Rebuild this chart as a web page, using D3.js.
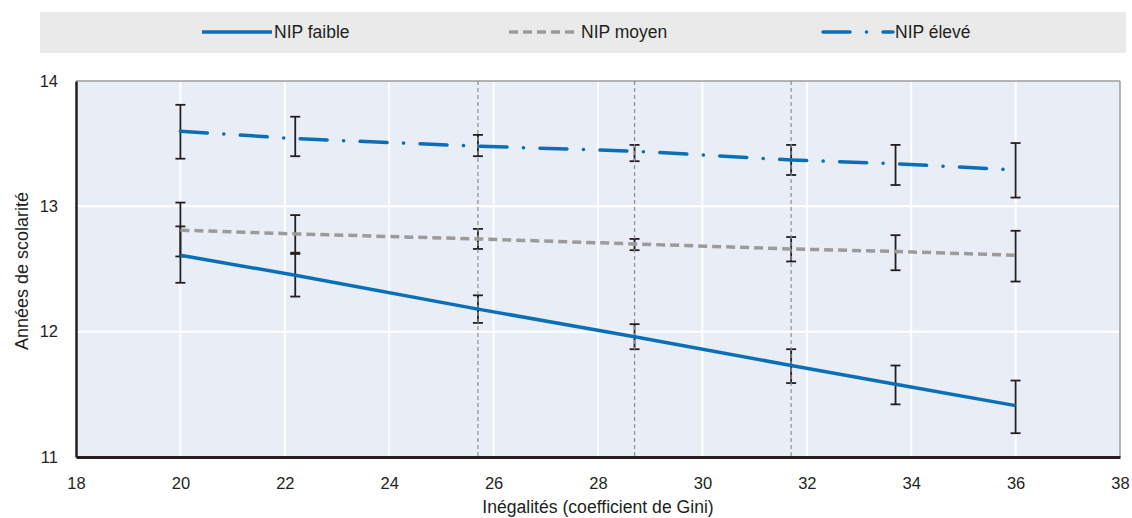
<!DOCTYPE html>
<html>
<head>
<meta charset="utf-8">
<script src="https://cdn.jsdelivr.net/npm/d3@7"></script>
<style>
  html, body { margin: 0; padding: 0; background: #fff; }
  svg text { font-family: "Liberation Sans Narrow", "Arial Narrow", "Liberation Sans", Arial, sans-serif; fill: #231F20; }
</style>
</head>
<body>
<svg id="chart" width="1132" height="518"></svg>
<script>
// Gini coefficient values at which schooling is evaluated
const gini = [20, 22.2, 25.7, 28.7, 31.7, 33.7, 36];
// Reference lines (Gini values marked with a dashed vertical line)
const refGini = [25.7, 28.7, 31.7];

// Predicted years of schooling by parental education level (NIP)
const faible = [12.61, 12.45, 12.18, 11.96, 11.73, 11.58, 11.41];
const moyen  = [12.81, 12.78, 12.74, 12.70, 12.66, 12.64, 12.61];
const eleve  = [13.60, 13.54, 13.48, 13.44, 13.37, 13.34, 13.29];

// Confidence intervals (low / high)
const faibleLo = [12.39, 12.28, 12.07, 11.86, 11.59, 11.42, 11.19];
const faibleHi = [12.84, 12.62, 12.29, 12.06, 11.86, 11.73, 11.61];
const moyenLo  = [12.60, 12.63, 12.66, 12.65, 12.56, 12.49, 12.40];
const moyenHi  = [13.03, 12.93, 12.82, 12.74, 12.755, 12.77, 12.805];
const eleveLo  = [13.38, 13.40, 13.40, 13.36, 13.25, 13.17, 13.07];
const eleveHi  = [13.81, 13.715, 13.57, 13.49, 13.49, 13.49, 13.505];

const seriesNames = ["NIP faible", "NIP moyen", "NIP élevé"];
const xTicks = [18, 20, 22, 24, 26, 28, 30, 32, 34, 36, 38];
const yTicks = [11, 12, 13, 14];
const xTitle = "Inégalités (coefficient de Gini)";
const yTitle = "Années de scolarité";

const BLUE = "#0B6FB8";
const GRAY = "#9B9B9B";
const styles = [
  { color: BLUE, dash: null },
  { color: GRAY, dash: "9,5" },
  { color: BLUE, dash: "27,16.45,0.1,16.45", cap: "round" }
];

const series = [
  { name: seriesNames[0], values: faible, lo: faibleLo, hi: faibleHi, style: styles[0] },
  { name: seriesNames[1], values: moyen,  lo: moyenLo,  hi: moyenHi,  style: styles[1] },
  { name: seriesNames[2], values: eleve,  lo: eleveLo,  hi: eleveHi,  style: styles[2] }
];

const svg = d3.select("#chart");
const plot = { left: 76, right: 1120, top: 81, bottom: 457 };

const x = d3.scaleLinear().domain([18, 38]).range([plot.left, plot.right]);
const y = d3.scaleLinear().domain([11, 14]).range([plot.bottom, plot.top]);

// Legend band
const legend = svg.append("g");
legend.append("rect")
  .attr("x", 40).attr("y", 12).attr("width", 1086).attr("height", 41)
  .attr("fill", "#EAEAEB");
const legendPos = [202, 509, 823];
series.forEach((s, i) => {
  const g = legend.append("g").attr("transform", `translate(${legendPos[i]},32)`);
  g.append("line")
    .attr("x1", 0).attr("x2", 70).attr("y1", 0).attr("y2", 0)
    .attr("stroke", s.style.color).attr("stroke-width", 3.5)
    .attr("stroke-dasharray", s.style.dash)
    .attr("stroke-linecap", s.style.cap || "butt");
  g.append("text")
    .attr("x", 72).attr("y", 6)
    .attr("font-size", 17.5)
    .text(s.name);
});

// Plot background
svg.append("rect")
  .attr("x", plot.left).attr("y", plot.top)
  .attr("width", plot.right - plot.left).attr("height", plot.bottom - plot.top)
  .attr("fill", "#E9EDF6");

// Gridlines
svg.append("g").selectAll("line.vx")
  .data(xTicks.filter(d => d > 18 && d < 38))
  .join("line")
  .attr("x1", d => x(d)).attr("x2", d => x(d))
  .attr("y1", plot.top).attr("y2", plot.bottom)
  .attr("stroke", "#fff").attr("stroke-width", 2);
svg.append("g").selectAll("line.hy")
  .data(yTicks.filter(d => d > 11 && d < 14))
  .join("line")
  .attr("x1", plot.left).attr("x2", plot.right)
  .attr("y1", d => y(d)).attr("y2", d => y(d))
  .attr("stroke", "#fff").attr("stroke-width", 2);

// Plot frame: grey top/right, black left/bottom
svg.append("line").attr("x1", plot.left).attr("x2", plot.right)
  .attr("y1", plot.top).attr("y2", plot.top)
  .attr("stroke", "#9C9C9C").attr("stroke-width", 1.5);
svg.append("line").attr("x1", plot.right).attr("x2", plot.right)
  .attr("y1", plot.top).attr("y2", plot.bottom)
  .attr("stroke", "#9C9C9C").attr("stroke-width", 1.5);

// Error bars
const cap = 5;
const eb = svg.append("g").attr("stroke", "#231F20").attr("stroke-width", 1.8);
series.forEach(s => {
  gini.forEach((g, i) => {
    eb.append("line")
      .attr("x1", x(g)).attr("x2", x(g))
      .attr("y1", y(s.lo[i])).attr("y2", y(s.hi[i]));
    [s.lo[i], s.hi[i]].forEach(v => {
      eb.append("line")
        .attr("x1", x(g) - cap).attr("x2", x(g) + cap)
        .attr("y1", y(v)).attr("y2", y(v));
    });
  });
});

// Dashed reference lines
svg.append("g").selectAll("line")
  .data(refGini)
  .join("line")
  .attr("x1", d => x(d)).attr("x2", d => x(d))
  .attr("y1", plot.top).attr("y2", plot.bottom)
  .attr("stroke", "#8E8E8E").attr("stroke-width", 1.2)
  .attr("stroke-dasharray", "4,3");

// Series lines
const line = d3.line().x((d, i) => x(gini[i])).y(d => y(d));
series.forEach(s => {
  svg.append("path")
    .datum(s.values)
    .attr("d", line)
    .attr("fill", "none")
    .attr("stroke", s.style.color)
    .attr("stroke-width", 3.5)
    .attr("stroke-dasharray", s.style.dash)
    .attr("stroke-linecap", s.style.cap || "butt");
});

// Axes
const xAxis = d3.axisBottom(x).tickValues(xTicks).tickSize(0).tickPadding(20).tickFormat(d3.format("d"));
const gx = svg.append("g").attr("transform", `translate(0,${plot.bottom})`).call(xAxis);
gx.select(".domain").attr("stroke", "#231F20").attr("stroke-width", 3);
gx.selectAll("text").attr("font-size", 16.5).attr("fill", "#231F20");

const yAxis = d3.axisLeft(y).tickValues(yTicks).tickSize(0).tickPadding(18).tickFormat(d3.format("d"));
const gy = svg.append("g").attr("transform", `translate(${plot.left},0)`).call(yAxis);
gy.select(".domain").attr("stroke", "#231F20").attr("stroke-width", 2.5);
gy.selectAll("text").attr("font-size", 16.5).attr("fill", "#231F20");

// Axis titles
svg.append("text")
  .attr("x", (plot.left + plot.right) / 2).attr("y", 513)
  .attr("text-anchor", "middle").attr("font-size", 17.6)
  .text(xTitle);
svg.append("text")
  .attr("transform", `translate(28,${(plot.top + plot.bottom) / 2 + 2}) rotate(-90)`)
  .attr("text-anchor", "middle").attr("font-size", 18)
  .text(yTitle);
</script>
</body>
</html>
